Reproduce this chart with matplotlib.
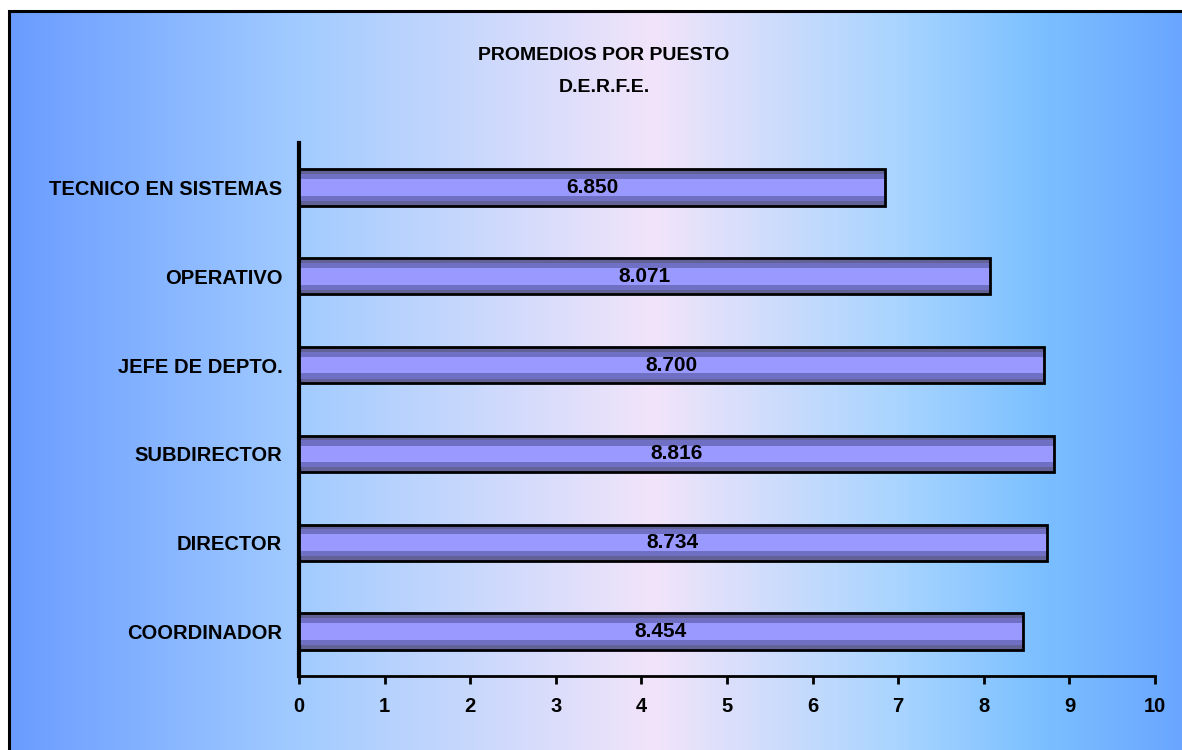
import numpy as np
import matplotlib
matplotlib.use('Agg')
import matplotlib.pyplot as plt
from matplotlib.colors import LinearSegmentedColormap
from matplotlib.patches import Rectangle

plt.rcParams['font.family'] = ['Liberation Sans', 'DejaVu Sans']

# 数据
puestos = ['COORDINADOR', 'DIRECTOR', 'SUBDIRECTOR', 'JEFE DE DEPTO.',
           'OPERATIVO', 'TECNICO EN SISTEMAS']
promedios = [8.454, 8.734, 8.816, 8.700, 8.071, 6.850]
xticks = [0, 1, 2, 3, 4, 5, 6, 7, 8, 9, 10]

fig = plt.figure(figsize=(11.82, 7.5), dpi=100)
fig.patch.set_facecolor('white')

# 背景渐变 (蓝 -> 浅粉白 -> 蓝)
bg = fig.add_axes([9 / 1182, 0, 1 - 9 / 1182, 1 - 11 / 750])
bg_cmap = LinearSegmentedColormap.from_list('bg', [
    (0.00, '#6a9cff'),
    (0.25, '#a2ccff'),
    (0.55, '#f2e4fa'),
    (0.76, '#a8d4ff'),
    (0.88, '#7cc0ff'),
    (1.00, '#6aa6ff'),
])
grad = np.linspace(0, 1, 512).reshape(1, -1)
bg.imshow(grad, aspect='auto', cmap=bg_cmap, extent=[0, 1, 0, 1])
bg.set_xlim(0, 1)
bg.set_ylim(0, 1)
bg.axis('off')
fig.patches.append(Rectangle((9 / 1182, -0.1), 2, 1 - 11 / 750 + 0.1,
                             transform=fig.transFigure, fill=False,
                             edgecolor='black', linewidth=2.2, zorder=5))

ax = fig.add_axes([299 / 1182, 74 / 750, (1155 - 299) / 1182, (676 - 143) / 750])
ax.patch.set_alpha(0)

y = np.arange(len(puestos))
h = 0.41
# 柱状图 (模拟立体效果)
ax.barh(y, promedios, height=h, color='#626296', edgecolor='none', zorder=2)
ax.barh(y, promedios, height=h * 0.74, color='#6f6fc4', edgecolor='none', zorder=3)
ax.barh(y, promedios, height=h * 0.46, color='#9999ff', edgecolor='none', zorder=4)
ax.barh(y, promedios, height=h, color='none', edgecolor='black', linewidth=2, zorder=5)

for yi, v in zip(y, promedios):
    ax.text(v / 2, yi, f'{v:.3f}', ha='center', va='center', fontsize=15,
            fontweight='bold', color='black', zorder=6)

ax.set_xlim(0, 10)
ax.set_ylim(-0.5, len(puestos) - 0.5)
ax.set_xticks(xticks)
ax.set_xticklabels([str(t) for t in xticks], fontsize=14.5, fontweight='bold')
ax.set_yticks(y)
ax.set_yticklabels(puestos, fontsize=14.5, fontweight='bold')
ax.tick_params(axis='y', length=0, pad=12)
ax.tick_params(axis='x', length=6, width=2, direction='out', pad=9)
ax.spines['top'].set_visible(False)
ax.spines['right'].set_visible(False)
ax.spines['left'].set_linewidth(3)
ax.spines['bottom'].set_linewidth(2)

fig.text(604 / 1182, 1 - 55 / 750, 'PROMEDIOS POR PUESTO', ha='center', va='center',
         fontsize=14, fontweight='bold')
fig.text(604 / 1182, 1 - 87 / 750, 'D.E.R.F.E.', ha='center', va='center',
         fontsize=14, fontweight='bold')

fig.savefig('out.png', dpi=100)
